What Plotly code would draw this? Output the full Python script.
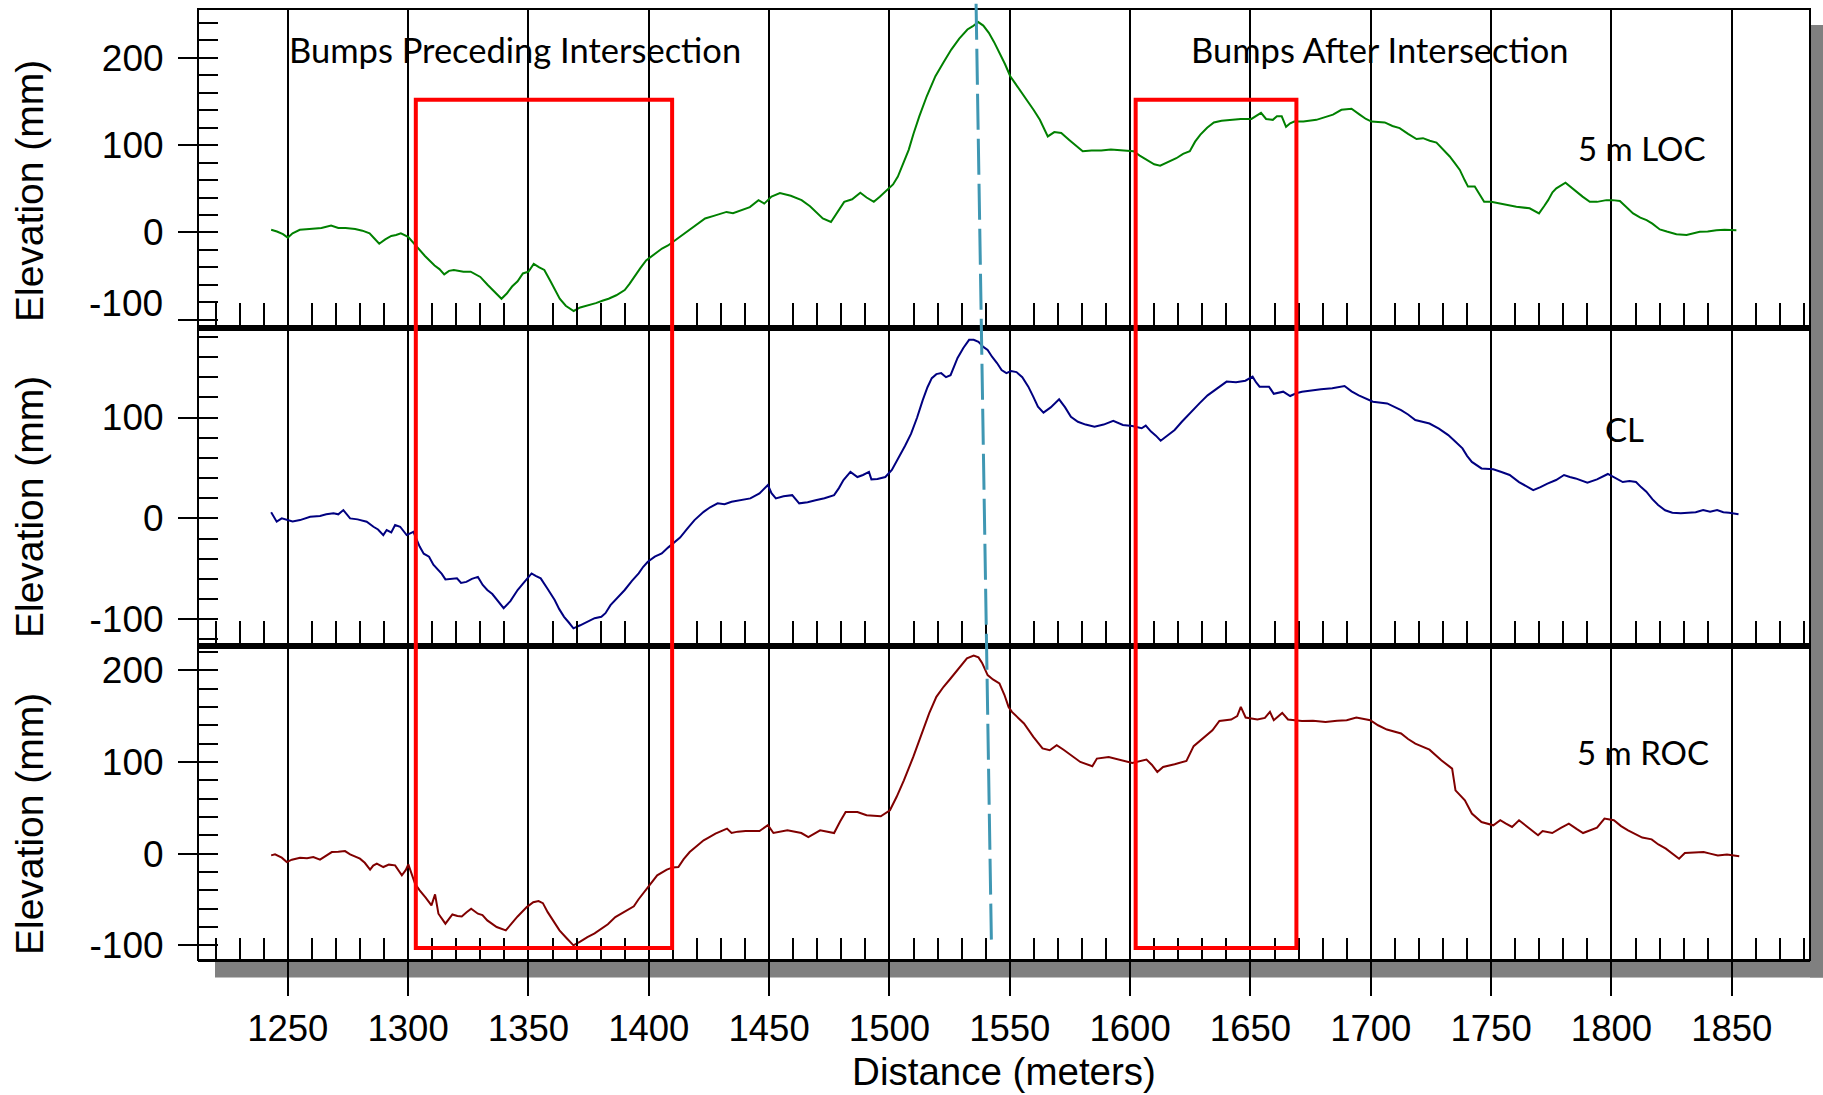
import plotly.graph_objects as go

# ---------------- data ----------------
loc_x = [1243.1,1245.5,1248,1250,1252,1255,1259,1264,1268,1271,1274,1278,1281,1284,1286,1288,1290.5,1293,1295,1297,
         1300,1303,1307,1311,1313,1315,1317,1319,1323,1326,1330,1333,1336,1338.8,1341,1343.2,1345.5,1347.7,1350,1352.2,
         1354.5,1356.6,1359,1361,1363,1365.5,1368.8,1371.5,1374.4,1378,1381,1383.3,1386.5,1390,1392,1394.4,1396.5,1398.9,
         1402,1405.5,1408,1410,1413,1416.7,1420,1423.4,1427,1432.3,1435,1438.9,1442,1445.6,1448,1451,1454.5,1459,1463.5,
         1467,1470,1472.3,1475.7,1478,1481.2,1484.5,1487.9,1490.5,1493.5,1496,1499,1501.5,1503.5,1506,1508,1510,1512.4,
         1515.5,1519.1,1522.5,1525.7,1529,1532.4,1534.5,1536.9,1539,1541.3,1543.5,1545.8,1548,1550.2,1553.5,1556.9,1560,
         1562.5,1565.8,1568.5,1571.4,1574.7,1577.5,1580.3,1584,1588,1592,1597,1601.4,1604,1607,1610,1612.5,1616,1619.2,
         1622,1624.8,1627,1629.2,1632,1634.8,1638,1641.5,1646,1650.4,1652.5,1654.4,1656.5,1659.3,1661,1663,1664.8,1666.5,
         1668.2,1672,1677.4,1681,1684.3,1687.8,1692,1695.4,1698,1700.3,1705.8,1709,1712,1715.5,1719,1721.7,1724.5,1727.3,
         1730,1732.8,1735,1737,1739,1740.4,1743.2,1745,1747.1,1750,1753.6,1757,1760.5,1766,1768,1769.9,1772,1773.7,1775.5,
         1777.1,1780.9,1783,1785.4,1788,1791,1794,1797.9,1800.5,1803.5,1806,1809,1812,1814.6,1817,1820.1,1823,1827,1831.2,
         1834,1836.7,1840,1843.6,1847,1851.9]
loc_y = [3,1,-2,-6,-1,3,4,5,8,5,5,4,2,-1,-7,-13,-8,-4,-3,-1,
         -5,-15,-27,-38,-42,-48,-44,-43,-45,-45,-51,-60,-68,-76,-70,-62,-56,-47,-45,-36,
         -40,-43,-55,-66,-76,-84,-90,-86,-84,-81,-78,-76,-72,-66,-59,-49,-41,-32,
         -26,-18.5,-15,-11,-5,2.6,9,16,19,23.5,22,25.6,29,37,33,41,45,42,37,
         30,22,16,12,22,35,38,45.5,40,35,41,48.6,55,64,80,94.6,113,133,
         156,179,195,209.5,222,232.5,236,241,237,228.7,218,205.7,193,179,166,152,140,
         129,110,115,114,106,99,93,94,94,95,94,93,88,83,78,76.5,81,85,
         90,93,104,112,120,126,128,129,130,130,134,137,130,129,133,133,121,125,
         127,127,129,132,135,140.5,141.7,135,130,127,126,122,119.5,113,107,108,105,103,
         95,87,79,71.6,60,52.5,52.5,44,35,35,33,31,29.5,27.6,25,21.8,30,37,46,
         50.5,57,52,46.7,41,35,35,37,37,36,30,21.8,17,14,10,3.4,1,-2,-3,
         -1,0.7,1,2.6,3,2.6]

cl_x = [1243.1,1245.4,1247.5,1249.6,1252,1255.1,1259.3,1263.4,1266,1269,1271,1273.1,1275.9,1279,1282.8,1285.6,1287.5,
        1289.7,1291.1,1293,1294.6,1296.7,1299.4,1302.2,1304.8,1306.5,1308.7,1310.5,1312.6,1314,1315.5,1318,1320.3,1322,
        1324.2,1326.5,1329,1331,1332.9,1335,1337.5,1339.7,1342.5,1345.5,1348,1351.3,1353,1355.1,1358,1360.9,1362.8,1364.8,
        1366.7,1368.7,1371.5,1374.5,1377.5,1380.3,1382,1384.1,1387,1390,1393,1395.8,1397.7,1399.6,1402.5,1405.4,1408,
        1410.3,1413,1416.1,1419,1422.8,1425.5,1428.6,1431.5,1434.4,1438,1442.2,1446,1449.5,1451,1452.8,1456,1459.6,1462.5,
        1466,1469.3,1473,1477,1479,1480.9,1483.8,1486.7,1489,1491.5,1492.5,1495,1498.3,1501,1504.1,1506.5,1509,1511.5,
        1513.8,1515.8,1517.6,1519.5,1521.5,1523.5,1525.4,1528.3,1530.7,1533.1,1535,1537,1539,1540.8,1542.7,1544.7,1546.6,
        1548.6,1550.5,1552.8,1555.2,1557.7,1559.7,1561.7,1564,1567,1570.5,1573,1575.4,1578.3,1581.5,1585.2,1589,1593,1597,
        1600.9,1604.8,1606.5,1608.7,1610.7,1612.7,1615.6,1618.5,1621.5,1625.4,1628.8,1632.2,1636.2,1640.1,1644,1647.9,
        1650.9,1652.3,1653.8,1657.7,1659.7,1663.6,1666.5,1669,1671.4,1675,1679.3,1684,1689.1,1692,1695,1700.9,1706.8,
        1712.6,1715.5,1718.5,1724.4,1728.3,1732.2,1735.2,1738.1,1740,1742,1746,1750.9,1754.3,1757.7,1761.6,1764.5,1767.5,
        1770.5,1773.4,1777,1780.3,1782.7,1785.1,1790,1794,1798.5,1801.5,1804.7,1807.5,1810.2,1812.3,1814.5,1817,1819.4,
        1822.3,1825.3,1828.8,1832.2,1835,1838.1,1841,1843.9,1846.5,1848.9,1852.8]
cl_y = [6,-3.3,0,-1.7,-3,-1.7,1.6,2.3,4,5,4,8.2,0,-1,-3.3,-8.3,-11,
        -16.6,-11.6,-14,-6.6,-8.3,-16.6,-13.3,-28,-35,-38,-46,-51,-55,-60.5,-60,-59.5,-64,
        -63,-60,-58,-66,-71,-75,-82,-89,-82,-71,-64,-54.6,-57,-59.5,-70,-81,-90,-97.6,
        -103,-109,-106,-102.6,-99,-97.6,-94,-86,-79,-71,-62,-54.6,-48,-43,-38,-34.7,-29,
        -24.8,-19,-10,-1.7,6.5,11,14.9,14,16.5,18,19.8,24.8,33,25,19.8,22,23,14.9,
        16,18,20,23,30,38,46,41,43,46,38.7,39,41,48,61,72,84,100,
        117,130,139,143,144,140,142,159,169,177,177,175,170,167,160,154,147,
        144,146,145,140,130.6,121,110.7,104.8,110,118,110,100.8,95.8,93,90.9,93,96.8,92.6,
        91.6,89.3,92,86,82,77,82.6,87.6,95.8,105.8,114,122,129,135.6,135,136.5,
        140.5,135,130.6,130.6,123.5,125.6,121.3,124,125.6,127,128,129,131.2,126,122,115.7,114,
        107.4,103,97.5,94,89,82.6,76,69.4,62,56,49.5,48.6,46,43,36,32,28,
        31,34.5,38,43,41,39.6,35.3,38.7,44,40,36,37,36,31,26.4,19,13.2,
        8,5.6,5,5.6,6,8.2,6.5,8.2,6,5.6,4]

roc_x = [1243.1,1244.7,1247.5,1249.6,1251.7,1255.1,1258,1260.6,1263.4,1266,1268.3,1271,1273.8,1275.9,1278,1280,1282,
         1284.2,1285.5,1287,1289.7,1292,1294.6,1297.4,1299,1300.1,1302.9,1304.8,1307.3,1309.7,1311.2,1312.6,1315.5,1318.4,
         1320.5,1322.3,1324.3,1326.2,1329,1330.9,1332.9,1336.8,1340.6,1343,1345.5,1349.3,1352,1354.2,1356,1358,1360.5,
         1362.9,1365.8,1368.7,1371.5,1374.5,1377.5,1380.3,1383,1386.1,1390,1393.8,1395.7,1397.7,1400.5,1403.5,1407.5,1410,
         1412.3,1414.5,1417,1420,1422.8,1425.2,1427.7,1432.5,1434.4,1437,1440.2,1446,1449.5,1451.8,1457.6,1463.4,1466.3,
         1471.2,1474,1477,1479.5,1481.8,1486.7,1490.5,1496.4,1500.2,1503,1506,1509.9,1513.8,1516.5,1519.5,1522.5,1525.4,
         1529,1532.2,1535,1537,1538.5,1540.8,1543,1545.7,1547.8,1549.5,1550.9,1553.5,1555.9,1559.8,1563.6,1566.6,1569.5,
         1572.5,1575.4,1579.3,1584.3,1586.2,1591.1,1597,1600.9,1606.8,1609,1611.3,1613.7,1618.5,1623.4,1626.4,1630.3,
         1634.2,1637.1,1642,1644.5,1646,1648,1652.9,1656,1658.1,1659.7,1663.2,1665.6,1671.4,1676,1681.2,1686,1690,1694,
         1699.8,1703,1706.7,1712.6,1715.5,1718.5,1724.4,1729.3,1733.8,1735.2,1739.1,1742,1746,1750.9,1753.8,1756,1758.7,
         1761.6,1765.5,1769.5,1771.4,1775.4,1779,1782.3,1785.5,1788.2,1794,1797.1,1801,1804,1806.9,1810,1812.8,1816.7,
         1819.5,1822.6,1828.1,1830.5,1834,1838.3,1841,1844.2,1848,1853.1]
roc_y = [-1.9,-0.8,-4.4,-9.2,-6.6,-4.4,-5,-3.7,-6.6,-2,1.7,2,2.8,-0.8,-3,-5.5,-10,
         -17.5,-13,-10.9,-14.6,-12,-12.8,-23.7,-18,-11.7,-32.8,-40,-48,-56.4,-44.4,-65.5,-76.4,-66.3,
         -68,-68.5,-64,-60,-65.5,-67,-72.8,-80,-83.7,-76,-68.5,-58.3,-53,-51.7,-54,-63.8,-74,
         -83.7,-92,-100,-96,-91,-87,-82,-77,-69.2,-63,-57.5,-50,-43,-33,-23.7,-17.5,-15,
         -14.6,-6,1.7,8,14.5,18,21.8,27.3,22.5,24,24.7,24.7,31,22.5,25.4,22.5,18.1,
         25.4,24,22.5,35,45.4,45.4,41.8,40.7,47.3,62,80,105.5,134.5,153,171,182,191,
         203,213,216,214,208,194.7,190,185.6,173,160,154.6,148,142,127.4,114.7,112.8,118.3,
         113,107.4,100,95.3,103.7,105.5,101.9,98.9,102.6,97,89.1,94.6,97.5,101.2,117.2,125.5,
         134.6,144.7,146.3,150,160,148.5,146.3,148,154.6,145.5,153.5,146.3,144.7,145,143.7,145,145.5,148.5,
         145.5,140,135.3,131,125,120,113.4,101.9,92.7,69,58.2,43.7,34.5,30.9,36.4,33,29.1,
         36.4,28,20,24.7,22.5,28,32.7,27,22.5,28.4,38.2,36.4,30,25.4,21,17.5,15.6,
         10,5.5,-5.5,0.7,1,1.7,0,-1.9,-1,-2.9]

series_names = ["5 m LOC", "CL", "5 m ROC"]
series_colors = ["#008000", "#000080", "#800000"]

y_tick_vals = [-100, 0, 100, 200]
y_tick_text = ["-100", "0", "100", "200"]

# highlighted zones (distance, m) and their vertical extent (top in LOC panel, bottom in ROC panel)
bump_zones = [(1303.2, 1409.7), (1602.3, 1669.1)]
zone_top_val, zone_bottom_val = 152, -103
# intersection marker (distance at top, distance at bottom, value at top in LOC, value at bottom in ROC)
marker_x = (1536.0, 1542.4)
marker_val = (262, -102)

x_range = [1212.7, 1882.5]
y_ranges = [[-106.1, 256.0], [-123.6, 191.7], [-116.0, 229.7]]
domains = [[0.6677, 1.0], [0.3333, 0.6677], [0.0, 0.3333]]


def to_paper(v, panel):
    r0, r1 = y_ranges[panel]
    d0, d1 = domains[panel]
    return d0 + (v - r0) / (r1 - r0) * (d1 - d0)


fig = go.Figure()
data = [(loc_x, loc_y), (cl_x, cl_y), (roc_x, roc_y)]
for i, (xs, ys) in enumerate(data):
    sfx = "" if i == 0 else str(i + 1)
    fig.add_trace(go.Scatter(x=xs, y=ys, mode="lines", name=series_names[i],
                             line=dict(color=series_colors[i], width=2),
                             xaxis="x" + sfx, yaxis="y" + sfx, showlegend=False))
    # empty trace to hold overlay axis for inward major ticks
    fig.add_trace(go.Scatter(x=[], y=[], xaxis="x" + sfx, yaxis="y" + str(i + 4),
                             showlegend=False, hoverinfo="skip"))

FONT = "Liberation Sans, Arial"
tickfont = dict(family=FONT, size=37, color="black")
layout = dict(
    width=1823, height=1095,
    margin=dict(l=198, r=13, t=9, b=135),
    paper_bgcolor="white", plot_bgcolor="white",
    showlegend=False,
)
for i in range(3):
    sfx = "" if i == 0 else str(i + 1)
    last = (i == 2)
    xa = dict(
        domain=[0, 1], range=x_range, anchor="y" + sfx,
        showgrid=True, gridcolor="black", gridwidth=1.5,
        tick0=1250, dtick=50,
        showline=True, linecolor="black", linewidth=2 if last else 6,
        zeroline=False,
        minor=dict(tick0=1250, dtick=10, ticks="inside", ticklen=22, tickwidth=1.5,
                   tickcolor="black", showgrid=False),
    )
    if last:
        xa.update(ticks="outside", ticklen=34, tickwidth=1.5, tickcolor="black",
                  showticklabels=True, tickfont=dict(family=FONT, size=36.5, color="black"),
                  ticklabelstandoff=1,
                  title=dict(text="Distance (meters)", standoff=10,
                             font=dict(family=FONT, size=38.5, color="black")))
    else:
        xa.update(ticks="", showticklabels=False, matches="x3")
    layout["xaxis" + sfx] = xa
    ttext = list(y_tick_text)
    if i == 0:
        ttext[0] = ""  # drawn separately, raised above the thick separator
    layout["yaxis" + sfx] = dict(
        domain=domains[i], range=y_ranges[i], anchor="x" + sfx,
        tickmode="array", tickvals=y_tick_vals, ticktext=ttext,
        ticks="outside", ticklen=19, tickwidth=1.5, tickcolor="black",
        tickfont=tickfont, ticklabelstandoff=7,
        showgrid=False, zeroline=False, showline=False,
        minor=dict(tick0=0, dtick=20, ticks="inside", ticklen=20, tickwidth=1.5,
                   tickcolor="black", showgrid=False),
    )
    layout["yaxis" + str(i + 4)] = dict(
        overlaying="y" + sfx, anchor="x" + sfx, range=y_ranges[i], side="left",
        tick0=0, dtick=100, ticks="inside", ticklen=20, tickwidth=1.5, tickcolor="black",
        showticklabels=False, showgrid=False, zeroline=False, showline=False,
    )
fig.update_layout(**layout)

shapes = []
# drop shadow
px_w, px_h = 1612.0, 951.0
shapes.append(dict(type="rect", xref="paper", yref="paper", layer="below",
                   x0=17 / px_w, x1=1 + 20 / px_w, y0=-17.5 / px_h, y1=0,
                   fillcolor="#808080", line=dict(width=0)))
shapes.append(dict(type="rect", xref="paper", yref="paper", layer="below",
                   x0=1.0, x1=1 + 20 / px_w, y0=-17.5 / px_h, y1=1 - 16 / px_h,
                   fillcolor="#808080", line=dict(width=0)))
# outer frame
shapes.append(dict(type="rect", xref="paper", yref="paper", x0=0, x1=1, y0=0, y1=1,
                   line=dict(color="black", width=2)))
# red zones
for (a, b) in bump_zones:
    shapes.append(dict(type="rect", xref="x3", yref="paper", x0=a, x1=b,
                       y0=to_paper(zone_bottom_val, 2), y1=to_paper(zone_top_val, 0),
                       line=dict(color="#ff0000", width=4)))
# intersection dashed line
shapes.append(dict(type="line", xref="x3", yref="paper",
                   x0=marker_x[0], x1=marker_x[1],
                   y0=to_paper(marker_val[0], 0), y1=to_paper(marker_val[1], 2),
                   line=dict(color="#3f97b3", width=3, dash="36px,9px")))
fig.update_layout(shapes=shapes)

ann_font = dict(family="Lato", size=34.5, color="black")
lab_font = dict(family="Lato", size=33, color="black")
anns = [
    dict(text="Bumps Preceding Intersection", x=(287 - 198) / px_w, y=(960 - 49.5) / px_h, font=ann_font),
    dict(text="Bumps After Intersection", x=(1189 - 198) / px_w, y=(960 - 49.5) / px_h, font=ann_font),
    dict(text="5 m LOC", x=(1576 - 198) / px_w, y=(960 - 148) / px_h, font=lab_font),
    dict(text="CL", x=(1603 - 198) / px_w, y=(960 - 429) / px_h, font=lab_font),
    dict(text="5 m ROC", x=(1575 - 198) / px_w, y=(960 - 752) / px_h, font=lab_font),
]
for a in anns:
    a.update(xref="paper", yref="paper", xanchor="left", yanchor="middle", showarrow=False)
# raised "-100" label of the top panel
anns.append(dict(text=y_tick_text[0], xref="paper", yref="paper", x=(165 - 198) / px_w,
                 y=(960 - 304) / px_h, xanchor="right", yanchor="middle", showarrow=False,
                 font=tickfont))
# y titles
for i, ycen in enumerate([191, 507, 824]):
    anns.append(dict(text="Elevation (mm)", xref="paper", yref="paper",
                     x=(29 - 198) / px_w, y=(960 - ycen) / px_h, textangle=-90,
                     xanchor="center", yanchor="middle", showarrow=False,
                     font=dict(family=FONT, size=39, color="black")))
fig.update_layout(annotations=anns)

fig.write_html("out.html")
